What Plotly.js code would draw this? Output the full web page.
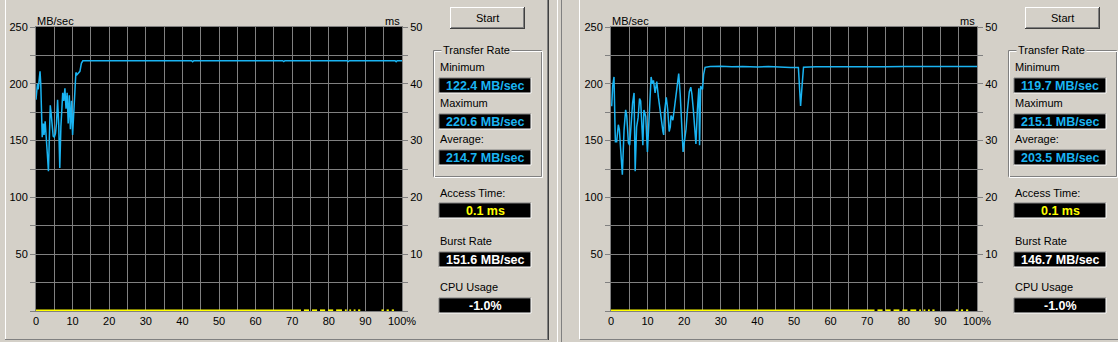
<!DOCTYPE html>
<html>
<head>
<meta charset="utf-8">
<script src="https://cdn.plot.ly/plotly-3.0.1.min.js"></script>
<style>html,body{margin:0;padding:0;background:#d4d0c8;overflow:hidden}#chart{width:1118px;height:342px}</style>
</head>
<body>
<div id="chart"></div>
<script>
// ---- data ----
const leftPct  = [0,0.4,0.6,1.1,1.3,1.5,1.7,2.0,2.2,2.5, 2.8,3.1,3.4,3.7,3.9,4.1,4.4,4.7,5.0,5.3, 5.6,5.9,6.2,6.5,6.8,7.0,7.3,7.6,7.9,8.2, 8.5,8.8,9.1,9.4,9.7,10.0,10.3,10.6,10.9,11.2, 11.6,12.0,12.4,12.8,13.4, 20,30,42.5,42.8,43.1, 55,67.4,67.7,68.0,78, 85.0,85.3,85.6,92,98.1, 98.4,98.7,100];
const leftRate = [186,200,195,211,200,167,153,165,155,167, 145,138,123,160,181,175,162,154,153,156, 165,186,165,126,162,180,192,185,196,178, 192,165,190,160,185,155,175,200,210,208, 210,211,218,220.2,220.3, 220.3,220.3,220.3,219.4,220.3, 220.3,220.3,219.6,220.3,220.3, 220.3,219.6,220.3,220.3,220.3, 219.5,220.3,220.3];

const rightPct  = [0,0.2,0.46,0.82,1.1,1.2,1.55,2.0,2.28,2.65, 3.1,3.56,4.0,4.3,4.75,5.1,5.4,5.9,6.3,6.6, 7.0,7.4,7.8,8.1,8.6,8.7,9.0,9.5,9.95,10.5, 10.96,11.3,11.6,12.05,12.5,12.96,13.4,13.9,14.2,14.4, 14.6,15.1,15.5,15.9,16.2,16.4,16.9,17.3,17.7,18.2, 18.5,18.9,19.4,19.7,20.0,20.5,20.9,21.4,21.8,22.1, 22.5,22.9,23.2,23.6,24.0,24.2,24.5,25.0,25.3,25.7, 27.1,30,33,36,40,43,46,49,51.2,51.4, 51.8,52.2,52.6,56,60,65,70,75,80,85, 90,95,100];
const rightRate = [181,181,198,206,162,149,149,164,160,142, 120,159,177,172,148,146,160,183,192,123, 162,170,187,185,153,146,177,171,140,171, 206,200,203,192,202,188,177,162,158,155, 175,188,177,158,162,172,168,178,190,203, 209,191,160,140,148,160,177,193,197,191, 177,153,147,177,196,146,198,195,208,214.5, 215.2,215.5,215.0,215.3,214.8,215.2,214.6,214.3,214.3,199, 180.5,198,214.6,215.1,215.0,215.3,215.1,214.9,215.2,215.4, 215.2,215.3,215.3];

const accLeftPct = [0,72.4,null,73.2,74.6,null,75.4,76.8,null,77.6,79.0,null,79.8,81.2,null,82.0,83.6,null,84.4,84.9,null,85.6,86.1,null,86.8,87.3,null,88.0,88.6,null,94.4,95.0,null,95.8,96.4,null,97.2,97.8];
const accLeftMs  = [0.1,0.1,null,0.1,0.1,null,0.1,0.1,null,0.1,0.1,null,0.1,0.1,null,0.1,0.1,null,0.1,0.1,null,0.1,0.1,null,0.1,0.1,null,0.1,0.1,null,0.1,0.1,null,0.1,0.1,null,0.1,0.1];
const accRightPct = [0,72.0,null,72.8,74.2,null,75.0,76.4,null,77.2,78.8,null,79.6,81.0,null,81.8,83.4,null,84.2,84.7,null,85.4,85.9,null,86.6,87.1,null,87.8,88.4,null,94.2,94.8,null,95.6,96.2,null,97.0,97.6];
const accRightMs  = [0.1,0.1,null,0.1,0.1,null,0.1,0.1,null,0.1,0.1,null,0.1,0.1,null,0.1,0.1,null,0.1,0.1,null,0.1,0.1,null,0.1,0.1,null,0.1,0.1,null,0.1,0.1,null,0.1,0.1,null,0.1,0.1];

const xTickVals = [0,5,10,15,20,25,30,35,40,45,50,55,60,65,70,75,80,85,90,95,100];
const xTickText = ['0','','10','','20','','30','','40','','50','','60','','70','','80','','90','','100%'];
const yTickVals = [0,25,50,75,100,125,150,175,200,225,250];
const yTickText = ['','','50','','100','','150','','200','','250'];
const msTickVals = [0,5,10,15,20,25,30,35,40,45,50];
const msTickText = ['','','10','','20','','30','','40','','50'];

const statMinimum = ['122.4 MB/sec','119.7 MB/sec'];
const statMaximum = ['220.6 MB/sec','215.1 MB/sec'];
const statAverage = ['214.7 MB/sec','203.5 MB/sec'];
const statAccess  = ['0.1 ms','0.1 ms'];
const statBurst   = ['151.6 MB/sec','146.7 MB/sec'];
const statCpu     = ['-1.0%','-1.0%'];

// ---- layout helpers ----
const W=1118, H=342, OFF=575;
const FONT='Liberation Sans, Arial, sans-serif';
const BG='#d4d0c8', DARK='#808080', CYAN='#1ab4f2';
function fx(x){return x/W;}
function fy(y){return 1-y/H;}
const shapes=[], ann=[];
function line(x0,y0,x1,y1,c,w){shapes.push({type:'line',xref:'paper',yref:'paper',x0:fx(x0),y0:fy(y0),x1:fx(x1),y1:fy(y1),line:{color:c,width:w||1}});}
function rect(x0,y0,x1,y1,fill){shapes.push({type:'rect',xref:'paper',yref:'paper',x0:fx(x0),y0:fy(y0),x1:fx(x1),y1:fy(y1),fillcolor:fill,line:{width:0}});}
function txt(x,y,t,o){o=o||{};ann.push({xref:'paper',yref:'paper',x:fx(x),y:fy(y),text:t,showarrow:false,xanchor:o.xa||'left',yanchor:'middle',
  font:{family:FONT,size:o.size||11,color:o.color||'#000'},bgcolor:o.bg||'rgba(0,0,0,0)',borderpad:o.pad===undefined?1:o.pad});}
function valBox(x0,y0,x1,y1,t,color){
  rect(x0,y0,x1,y1,'#000');
  line(x0,y0,x1,y0,DARK); line(x0,y0,x0,y1,DARK);
  line(x0,y1,x1,y1,'#fff'); line(x1,y0,x1,y1,'#fff');
  txt((x0+x1)/2,(y0+y1)/2+0.5,'<b>'+t+'</b>',{xa:'center',color:color,size:12.5});
}

for(let p=0;p<2;p++){
  const o=p*OFF;
  // Start button
  rect(450+o,7,525+o,29,BG);
  line(450+o,7.5,525+o,7.5,'#fff'); line(450.5+o,7,450.5+o,29,'#fff');
  line(450+o,28.5,525+o,28.5,'#404040'); line(524.5+o,7,524.5+o,29,'#404040');
  line(451+o,27.5,524+o,27.5,DARK); line(523.5+o,8,523.5+o,28,DARK);
  txt(487.5+o,18,'Start',{xa:'center'});
  // Transfer rate group box
  line(433.5+o,50.5,541.5+o,50.5,DARK); line(433.5+o,50.5,433.5+o,176.5,DARK);
  line(433.5+o,176.5,541.5+o,176.5,DARK); line(541.5+o,50.5,541.5+o,176.5,DARK);
  line(434.5+o,51.5,542.5+o,51.5,'#fff'); line(434.5+o,51.5,434.5+o,177.5,'#fff');
  line(434.5+o,177.5,542.5+o,177.5,'#fff'); line(542.5+o,51.5,542.5+o,177.5,'#fff');
  txt(441+o,50.5,'Transfer Rate',{bg:BG,pad:1});
  txt(438+o,67,'Minimum');
  valBox(439+o,78,531+o,93,statMinimum[p],CYAN);
  txt(438+o,103,'Maximum');
  valBox(439+o,114,531+o,129,statMaximum[p],CYAN);
  txt(438+o,139,'Average:');
  valBox(439+o,150,531+o,165,statAverage[p],CYAN);
  txt(438+o,193,'Access Time:');
  valBox(439+o,203,531+o,218,statAccess[p],'#ffff00');
  txt(438+o,241,'Burst Rate');
  valBox(439+o,252,531+o,267,statBurst[p],'#fff');
  txt(438+o,287,'CPU Usage');
  valBox(439+o,298,531+o,313,statCpu[p],'#fff');
  // axis unit labels
  txt(36+o,20.5,'MB/sec',{pad:0});
  txt(401+o,20.5,'ms',{xa:'right',pad:0});
}
// panel borders
line(5.5,0,5.5,339,'#fff');
line(5,339.5,548,339.5,DARK);
line(547.5,0,547.5,340,DARK); line(548.5,0,548.5,340,'#404040');
line(557.5,0,557.5,342,'#fff'); line(561.5,0,561.5,342,DARK);
line(579.5,0,579.5,339,'#fff');
line(580,339.5,1118,339.5,DARK);

const yDom=[31/H,315/H];
function xAx(d,anchor){return {domain:d,anchor:anchor,range:[0,100],tickmode:'array',tickvals:xTickVals,ticktext:xTickText,
  showgrid:true,gridcolor:DARK,gridwidth:1,zeroline:false,ticks:'',showline:true,linecolor:DARK,mirror:true,
  tickfont:{family:FONT,size:11,color:'#000'},fixedrange:true};}
function yAx(anchor){return {domain:yDom,anchor:anchor,range:[0,250],tickmode:'array',tickvals:yTickVals,ticktext:yTickText,
  showgrid:true,gridcolor:DARK,gridwidth:1,zeroline:false,ticks:'outside',ticklen:5,tickcolor:DARK,showline:true,linecolor:DARK,
  tickfont:{family:FONT,size:11,color:'#000'},fixedrange:true};}
function msAx(over,anchor){return {overlaying:over,anchor:anchor,side:'right',range:[0,50],tickmode:'array',tickvals:msTickVals,ticktext:msTickText,
  showgrid:false,zeroline:false,ticks:'outside',ticklen:5,tickcolor:DARK,showline:true,linecolor:DARK,
  tickfont:{family:FONT,size:11,color:'#000'},fixedrange:true};}

const traces=[
  {x:leftPct,y:leftRate,xaxis:'x',yaxis:'y',type:'scatter',mode:'lines',line:{color:CYAN,width:1.5},hoverinfo:'skip'},
  {x:accLeftPct,y:accLeftMs,xaxis:'x',yaxis:'y3',type:'scatter',mode:'lines',connectgaps:false,line:{color:'#ffff00',width:2},hoverinfo:'skip'},
  {x:rightPct,y:rightRate,xaxis:'x2',yaxis:'y2',type:'scatter',mode:'lines',line:{color:CYAN,width:1.5},hoverinfo:'skip'},
  {x:accRightPct,y:accRightMs,xaxis:'x2',yaxis:'y4',type:'scatter',mode:'lines',connectgaps:false,line:{color:'#ffff00',width:2},hoverinfo:'skip'}
];
const layout={
  width:W,height:H,margin:{l:0,r:0,t:0,b:0},paper_bgcolor:BG,plot_bgcolor:'#000',showlegend:false,
  xaxis:xAx([36/W,402/W],'y'),
  yaxis:yAx('x'),
  yaxis3:msAx('y','x'),
  xaxis2:xAx([611/W,977/W],'y2'),
  yaxis2:yAx('x2'),
  yaxis4:msAx('y2','x2'),
  shapes:shapes,annotations:ann
};
Plotly.newPlot('chart',traces,layout,{displayModeBar:false,staticPlot:true});
</script>
</body>
</html>
